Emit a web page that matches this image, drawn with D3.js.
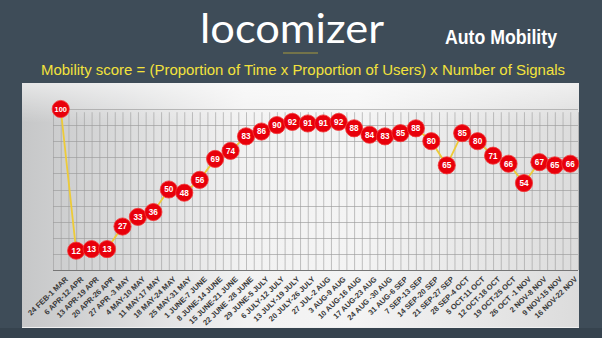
<!DOCTYPE html>
<html>
<head>
<meta charset="utf-8">
<script src="https://cdn.jsdelivr.net/npm/d3@7/dist/d3.min.js"></script>
<style>
  html, body { margin: 0; padding: 0; background: #3e4c58; }
  svg { display: block; }
</style>
</head>
<body>
<svg id="chart" width="602" height="338"></svg>
<script>
// Weekly periods (x categories)
const weeks = [
  "24 FEB-1 MAR", "6 APR-12 APR", "13 APR-19 APR", "20 APR-26 APR", "27 APR -3 MAY",
  "4 MAY-10 MAY", "11 MAY-17 MAY", "18 MAY-24 MAY", "25 MAY-31 MAY", "1 JUNE-7 JUNE",
  "8 JUNE-14 JUNE", "15 JUNE-21 JUNE", "22 JUNE -28 JUNE", "29 JUNE-5 JULY", "6  JULY-12 JULY",
  "13 JULY-19 JULY", "20 JULY-26 JULY", "27 JUL-2 AUG", "3 AUG-9 AUG", "10 AUG-16 AUG",
  "17 AUG-23 AUG", "24 AUG -30 AUG", "31 AUG-6 SEP", "7 SEP-13 SEP", "14 SEP-20 SEP",
  "21 SEP-27 SEP", "28 SEP-4 OCT", "5 OCT-11 OCT", "12 OCT-18 OCT", "19 OCT-25 OCT",
  "26 OCT -1 NOV", "2 NOV-8 NOV", "9 NOV-15 NOV", "16 NOV-22 NOV"
];

// Mobility score per week
const scores = [
  100, 12, 13, 13, 27, 33, 36, 50, 48, 56,
  69, 74, 83, 86, 90, 92, 91, 91, 92, 88,
  84, 83, 85, 88, 80, 65, 85, 80, 71, 66,
  54, 67, 65, 66
];

// Horizontal grid values
const gridValues = [0, 10, 20, 30, 40, 50, 60, 70, 80, 90, 100];

const svg = d3.select("#chart");
const W = 602, H = 338;

const defs = svg.append("defs");
const panelGrad = defs.append("linearGradient").attr("id", "panelGrad")
  .attr("x1", "0").attr("y1", "0").attr("x2", "1").attr("y2", "0");
panelGrad.append("stop").attr("offset", "0%").attr("stop-color", "#c6c7c8");
panelGrad.append("stop").attr("offset", "40%").attr("stop-color", "#f2f2f2");
panelGrad.append("stop").attr("offset", "60%").attr("stop-color", "#f4f4f4");
panelGrad.append("stop").attr("offset", "100%").attr("stop-color", "#dcdcdc");

const topGrad = defs.append("linearGradient").attr("id", "topGrad")
  .attr("x1", "0").attr("y1", "0").attr("x2", "0").attr("y2", "1");
topGrad.append("stop").attr("offset", "0%").attr("stop-color", "#ffffff").attr("stop-opacity", 0.55);
topGrad.append("stop").attr("offset", "100%").attr("stop-color", "#ffffff").attr("stop-opacity", 0);

// Page background
svg.append("rect").attr("width", W).attr("height", H).attr("fill", "#3e4c58");
svg.append("rect").attr("x", 0).attr("y", 328).attr("width", W).attr("height", 10).attr("fill", "#36434e");

// Header
svg.append("text")
  .attr("x", 292).attr("y", 43)
  .attr("text-anchor", "middle")
  .attr("font-family", "Lato, 'Open Sans', sans-serif")
  .attr("font-size", 40)
  .attr("font-weight", 400)
  .attr("fill", "#ffffff")
  .attr("textLength", 184)
  .attr("lengthAdjust", "spacingAndGlyphs")
  .text("locomizer");

svg.append("line")
  .attr("x1", 283).attr("x2", 318).attr("y1", 53).attr("y2", 53)
  .attr("stroke", "#a89a3c").attr("stroke-width", 1.2);

svg.append("text")
  .attr("x", 445).attr("y", 44)
  .attr("font-family", "'Liberation Sans', Arial, sans-serif")
  .attr("font-size", 20)
  .attr("font-weight", 700)
  .attr("fill", "#ffffff")
  .attr("textLength", 112)
  .attr("lengthAdjust", "spacingAndGlyphs")
  .text("Auto Mobility");

svg.append("text")
  .attr("x", 41).attr("y", 75)
  .attr("font-family", "'Liberation Sans', Arial, sans-serif")
  .attr("font-size", 14)
  .attr("fill", "#f3e23c")
  .attr("textLength", 524)
  .attr("lengthAdjust", "spacingAndGlyphs")
  .text("Mobility score = (Proportion of Time x Proportion of Users) x Number of Signals");

// Chart panel
svg.append("rect")
  .attr("x", 22).attr("y", 83).attr("width", 557).attr("height", 245)
  .attr("fill", "url(#panelGrad)");
svg.append("rect")
  .attr("x", 22).attr("y", 83).attr("width", 557).attr("height", 40)
  .attr("fill", "url(#topGrad)");
svg.append("line")
  .attr("x1", 22).attr("x2", 579).attr("y1", 327.5).attr("y2", 327.5)
  .attr("stroke", "#f0f0f0").attr("stroke-width", 1);

// Scales
const x = d3.scaleBand().domain(weeks).range([53, 578]);
const y = d3.scaleLinear().domain([0, 100]).range([270, 109]);

// Grid
const grid = svg.append("g");
const halfSteps = d3.range(0, weeks.length * 2 + 1);
grid.selectAll("line.v").data(halfSteps).join("line")
  .attr("class", "v")
  .attr("x1", d => 53 + d * x.bandwidth() / 2 + 0.5)
  .attr("x2", d => 53 + d * x.bandwidth() / 2 + 0.5)
  .attr("y1", y(98)).attr("y2", y(0))
  .attr("stroke", "#a0a0a0").attr("stroke-width", 0.65);
grid.selectAll("line.h").data(gridValues).join("line")
  .attr("class", "h")
  .attr("x1", 53).attr("x2", 578)
  .attr("y1", d => Math.round(y(d)) + 0.5).attr("y2", d => Math.round(y(d)) + 0.5)
  .attr("stroke", d => d === 0 ? "#767676" : "#9a9a9a")
  .attr("stroke-width", d => d === 0 ? 1 : 0.65);

// X axis labels
const xAxis = d3.axisBottom(x).tickSize(0).tickPadding(0);
const gx = svg.append("g").attr("transform", `translate(0, ${y(0) + 6})`).call(xAxis);
gx.select(".domain").remove();
gx.selectAll("text")
  .attr("font-family", "'Liberation Sans', Arial, sans-serif")
  .attr("font-size", 7.6)
  .attr("font-weight", 700)
  .attr("fill", "#3a3a3a")
  .attr("text-anchor", "end")
  .attr("dy", "0.7em")
  .attr("transform", "translate(4,0) rotate(-44)");

// Line
const cx = d => x(d) + x.bandwidth() / 2;
const line = d3.line().x((d, i) => cx(weeks[i])).y(d => y(d));
svg.append("path")
  .datum(scores)
  .attr("d", line)
  .attr("fill", "none")
  .attr("stroke", "#edcb38")
  .attr("stroke-width", 1.8);

// Markers
const marks = svg.append("g").selectAll("g").data(scores).join("g")
  .attr("transform", (d, i) => `translate(${cx(weeks[i])}, ${y(d)})`);
marks.append("circle")
  .attr("r", 8.6)
  .attr("fill", "#e8000b")
  .attr("stroke", "#f23a3a")
  .attr("stroke-width", 0.8);
marks.append("text")
  .attr("text-anchor", "middle")
  .attr("dy", "0.35em")
  .attr("font-family", "'Liberation Sans', Arial, sans-serif")
  .attr("font-size", d => d >= 100 ? 7.4 : 8.2)
  .attr("font-weight", 700)
  .attr("fill", "#ffffff")
  .text(d => d);
</script>
</body>
</html>
